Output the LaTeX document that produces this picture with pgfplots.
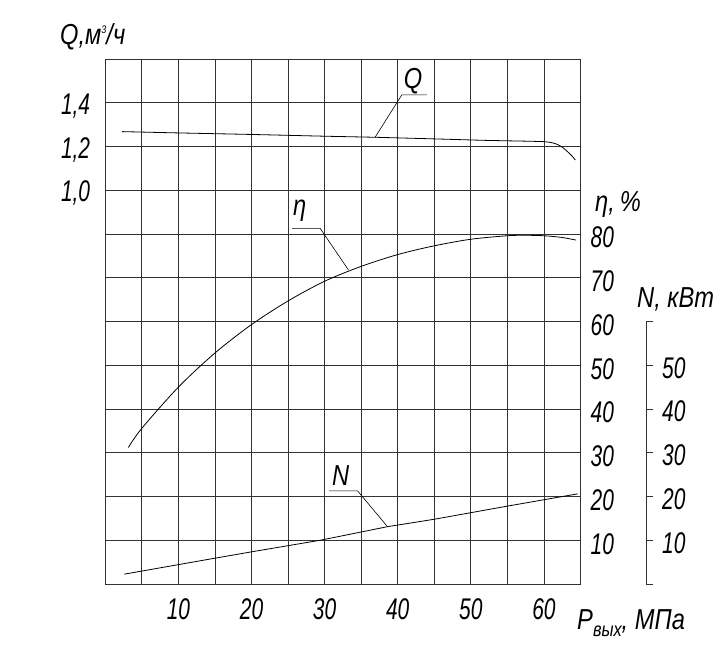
\documentclass[border=0pt]{standalone}
\usepackage{fontspec}
\setmainfont{Liberation Sans}[FakeStretch=0.7]
\newfontfamily\gtitlefam{Liberation Sans}[FakeStretch=0.82]
\usepackage{pgfplots}
\pgfplotsset{compat=1.18}
\newcommand{\gfont}{\fontsize{30}{34}\selectfont\itshape}
\newcommand{\tfont}{\gtitlefam\fontsize{29}{33}\selectfont\itshape}
\definecolor{gridc}{gray}{0.2}
\begin{document}
\begin{tikzpicture}[x=1bp,y=1bp]
\path[use as bounding box] (0,0) rectangle (717,662);
% main axis: eta and N (same pixel scale)
\begin{axis}[at={(105.3bp,78bp)}, anchor=south west, scale only axis,
  width=475.2bp, height=525bp,
  xmin=0, xmax=65, ymin=0, ymax=120,
  axis line style={gridc, line width=0.8bp},
  grid=major, grid style={gridc, line width=0.8bp},
  xtick={0,5,...,65}, xticklabels={,,10,,20,,30,,40,,50,,60,},
  ytick={0,10,...,120}, yticklabels={,10,20,30,40,50,60,70,80,,,,},
  yticklabel pos=right,
  major tick length=0pt, tick style={draw=none},
  xticklabel style={font=\gfont, inner sep=0pt, anchor=base, yshift=-36bp},
  yticklabel style={font=\gfont, inner sep=0pt, anchor=west, xshift=10bp, yshift=-3.5bp},
  clip=false]
\addplot[black, line width=0.8bp, smooth, tension=0.5] coordinates {
 (3.15,31.2) (5,35.6) (10,45.0) (15,52.8) (20,59.3) (25,64.7) (30,69.2)
 (35,72.6) (40,75.3) (45,77.3) (50,78.8) (55,79.6) (57.5,79.7) (60,79.6)
 (62.5,79.2) (64.4,78.6)};
\addplot[black, line width=0.8bp] coordinates {
 (2.6,2.25) (15,5.9) (20,7.35) (29.4,10.0) (38.6,13.1) (45,14.8) (55,17.8) (64.6,20.6)};
% eta annotation
\draw[black, line width=0.6bp] (axis cs:25.55,81.3) -- (axis cs:29.38,81.3) -- (axis cs:33.25,71.8);
\node[font=\tfont, inner sep=0pt, anchor=base] at (axis cs:26.6,84.3) {η};
% N annotation
\draw[black, line width=0.6bp] (axis cs:30.6,21.3) -- (axis cs:34.5,21.3) -- (axis cs:38.6,13.1);
\node[font=\tfont, inner sep=0pt, anchor=base] at (axis cs:32.2,22.6) {N};
\end{axis}
% Q axis
\begin{axis}[at={(105.3bp,78bp)}, anchor=south west, scale only axis,
  width=475.2bp, height=525bp,
  xmin=0, xmax=65, ymin=-0.8, ymax=1.6,
  hide x axis, axis y line*=left, axis line style={draw=none},
  ytick={1.0,1.2,1.4}, yticklabels={{1,0},{1,2},{1,4}},
  major tick length=0pt, tick style={draw=none},
  yticklabel style={font=\gfont, inner sep=0pt, anchor=east, xshift=-15bp, yshift=-3bp},
  clip=false]
\addplot[black, line width=0.8bp, smooth, tension=0.4] coordinates {
 (2.3,1.268) (10,1.262) (20,1.255) (30,1.247) (37,1.242) (45.8,1.234) (52,1.228)
 (58,1.224) (60,1.222) (61,1.218) (61.8,1.210) (62.5,1.197) (63.2,1.177)
 (63.8,1.158) (64.3,1.138)};
\draw[black, line width=0.6bp] (axis cs:43.98,1.436) -- (axis cs:40.56,1.436) -- (axis cs:36.9,1.242);
\node[font=\tfont, inner sep=0pt, anchor=base] at (axis cs:42.1,1.463) {Q};
\end{axis}
% N axis
\begin{axis}[at={(646bp,78bp)}, anchor=south east, scale only axis,
  width=10bp, height=262.5bp,
  xmin=0, xmax=1, ymin=0, ymax=60,
  hide x axis, axis y line*=right,
  axis line style={gridc, line width=0.8bp},
  tick align=outside, major tick length=7bp,
  tick style={gridc, line width=0.8bp},
  ytick={0,10,...,60}, yticklabels={,10,20,30,40,50,},
  yticklabel style={font=\gfont, inner sep=0pt, anchor=west, xshift=9bp, yshift=-2.5bp}]
\addplot[draw=none] coordinates {(0,0) (1,60)};
\end{axis}
% axis titles
\node[font=\tfont, inner sep=0pt, anchor=base west] at (60,617) {Q,м\raisebox{11bp}{\fontsize{11}{11}\selectfont 3}/ч};
\node[font=\tfont, inner sep=0pt, anchor=base west] at (595,450) {η,\,\%};
\node[font=\tfont, inner sep=0pt, anchor=base west] at (637,354) {N, кВт};
\node[font=\tfont, inner sep=0pt, anchor=base west] at (577,32) {P\raisebox{-7bp}{\fontsize{20}{20}\selectfont вых}, МПа};
\end{tikzpicture}
\end{document}
